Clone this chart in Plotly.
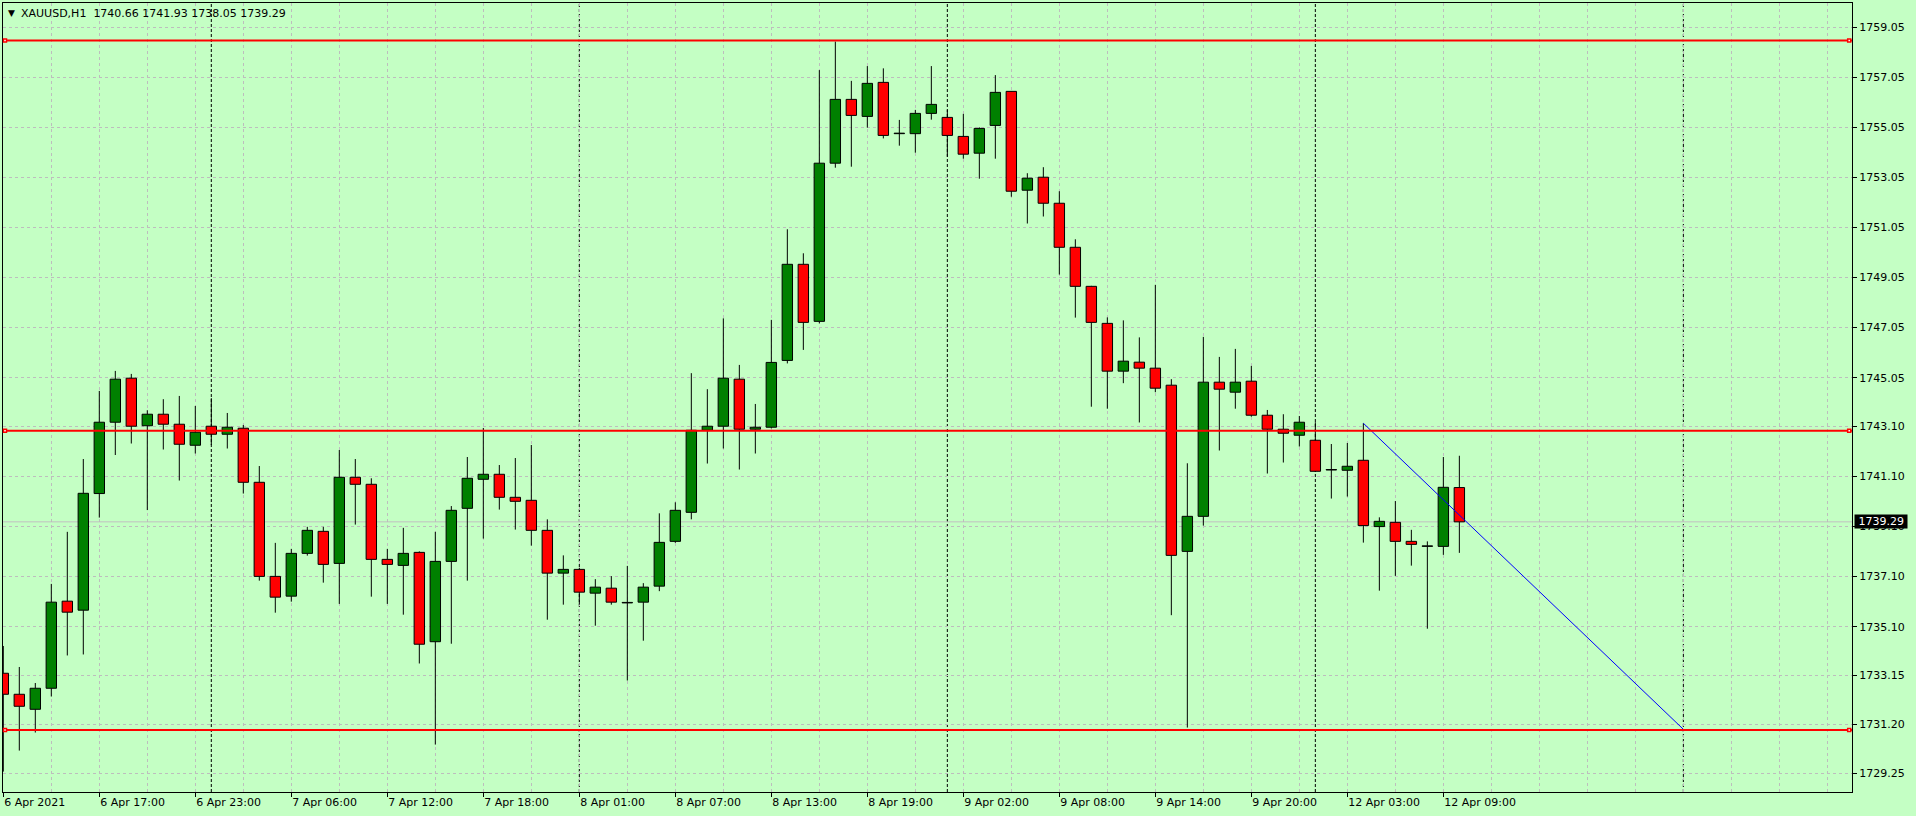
import plotly.graph_objects as go

# ---------------- data ----------------
opens = [1733.24, 1732.40, 1731.80, 1732.64, 1736.12, 1735.76, 1740.42, 1743.27, 1745.03, 1743.13,
         1743.59, 1743.19, 1742.35, 1743.11, 1742.79, 1743.03, 1740.87, 1737.11, 1736.32, 1738.03,
         1738.91, 1737.63, 1741.07, 1740.79, 1737.79, 1737.55, 1738.07, 1734.50, 1737.71, 1739.83,
         1740.99, 1741.19, 1740.27, 1740.15, 1738.95, 1737.24, 1737.39, 1736.44, 1736.64, 1736.05,
         1736.08, 1736.72, 1738.51, 1739.67, 1742.95, 1743.11, 1744.99, 1742.99, 1743.07, 1745.74,
         1749.58, 1747.30, 1753.62, 1756.17, 1755.49, 1756.85, 1754.80, 1754.80, 1755.61, 1755.45,
         1754.69, 1754.02, 1755.13, 1756.49, 1752.54, 1753.06, 1752.02, 1750.26, 1748.70, 1747.22,
         1745.31, 1745.67, 1745.43, 1744.75, 1738.11, 1739.51, 1744.87, 1744.47, 1744.91, 1743.55,
         1742.99, 1742.75, 1742.55, 1741.36, 1741.35, 1741.75, 1739.10, 1739.27, 1738.51, 1738.31,
         1738.31, 1740.66]
highs = [1734.33, 1733.49, 1732.85, 1736.81, 1738.89, 1741.80, 1744.52, 1745.32, 1745.20, 1743.75,
         1744.19, 1744.32, 1743.92, 1744.23, 1743.64, 1743.16, 1741.52, 1738.45, 1738.21, 1739.09,
         1739.09, 1742.16, 1741.80, 1741.03, 1738.21, 1739.05, 1738.11, 1738.89, 1739.92, 1741.88,
         1743.04, 1741.56, 1741.84, 1742.36, 1739.39, 1737.95, 1737.45, 1737.00, 1737.12, 1737.53,
         1736.84, 1739.63, 1740.07, 1745.23, 1744.59, 1747.42, 1745.56, 1744.00, 1747.36, 1750.98,
         1750.02, 1757.34, 1758.48, 1756.91, 1757.50, 1757.41, 1755.35, 1755.75, 1757.50, 1755.75,
         1755.59, 1755.05, 1757.14, 1756.50, 1753.22, 1753.46, 1752.50, 1750.58, 1748.72, 1747.46,
         1747.34, 1746.66, 1748.76, 1744.99, 1741.63, 1746.68, 1745.88, 1746.20, 1745.52, 1743.76,
         1743.59, 1743.52, 1743.27, 1742.40, 1742.44, 1743.23, 1739.47, 1740.12, 1738.97, 1738.51,
         1741.88, 1741.93]
lows = [1729.31, 1730.15, 1730.87, 1732.31, 1733.95, 1733.99, 1739.46, 1741.96, 1742.42, 1739.76,
        1742.18, 1740.94, 1742.02, 1742.36, 1742.22, 1740.42, 1736.94, 1735.66, 1736.10, 1737.94,
        1736.86, 1736.01, 1739.18, 1736.30, 1736.01, 1735.58, 1733.63, 1730.39, 1734.42, 1736.94,
        1738.62, 1739.78, 1738.98, 1738.34, 1735.38, 1735.98, 1735.98, 1735.14, 1735.98, 1732.95,
        1734.54, 1736.52, 1738.45, 1739.39, 1741.62, 1742.22, 1741.38, 1742.02, 1743.02, 1745.62,
        1746.16, 1747.22, 1753.44, 1753.48, 1755.04, 1754.61, 1754.32, 1754.04, 1755.36, 1753.88,
        1753.80, 1753.00, 1753.80, 1752.28, 1751.21, 1751.49, 1749.17, 1747.45, 1743.89, 1743.81,
        1744.83, 1743.26, 1744.47, 1735.56, 1731.07, 1739.14, 1742.14, 1743.81, 1743.49, 1741.22,
        1741.66, 1742.30, 1741.28, 1740.22, 1740.30, 1738.46, 1736.54, 1737.13, 1737.54, 1735.02,
        1737.97, 1738.05]
closes = [1732.40, 1731.92, 1732.64, 1736.08, 1735.68, 1740.43, 1743.27, 1744.99, 1743.11, 1743.59,
          1743.19, 1742.39, 1742.87, 1742.79, 1743.07, 1740.87, 1737.11, 1736.28, 1738.03, 1738.95,
          1737.59, 1741.07, 1740.79, 1737.79, 1737.59, 1738.03, 1734.40, 1737.71, 1739.75, 1741.03,
          1741.19, 1740.27, 1740.11, 1738.95, 1737.24, 1737.39, 1736.48, 1736.68, 1736.08, 1736.07,
          1736.68, 1738.47, 1739.75, 1742.95, 1743.11, 1745.03, 1742.99, 1743.07, 1745.66, 1749.58,
          1747.26, 1753.62, 1756.17, 1755.53, 1756.81, 1754.73, 1754.82, 1755.61, 1755.97, 1754.73,
          1753.98, 1755.01, 1756.45, 1752.50, 1753.02, 1752.02, 1750.26, 1748.70, 1747.26, 1745.31,
          1745.71, 1745.43, 1744.63, 1737.95, 1739.51, 1744.87, 1744.59, 1744.87, 1743.55, 1742.99,
          1742.83, 1743.27, 1741.31, 1741.38, 1741.51, 1739.14, 1739.31, 1738.51, 1738.39, 1738.33,
          1740.67, 1739.29]

x_tick_pos = [0, 6, 12, 18, 24, 30, 36, 42, 48, 54, 60, 66, 72, 78, 84, 90]
x_tick_labels = ["6 Apr 2021", "6 Apr 17:00", "6 Apr 23:00", "7 Apr 06:00", "7 Apr 12:00",
                 "7 Apr 18:00", "8 Apr 01:00", "8 Apr 07:00", "8 Apr 13:00", "8 Apr 19:00",
                 "9 Apr 02:00", "9 Apr 08:00", "9 Apr 14:00", "9 Apr 20:00", "12 Apr 03:00",
                 "12 Apr 09:00"]
x_grid_pos = list(range(3, 116, 3))
y_tick_vals = [1759.05, 1757.05, 1755.05, 1753.05, 1751.05, 1749.05, 1747.05, 1745.05,
               1743.10, 1741.10, 1739.10, 1737.10, 1735.10, 1733.15, 1731.20, 1729.25]
level_prices = [1758.52, 1742.93, 1730.97]
separator_idx = [13, 36, 59, 82, 105]
trend_x = [85, 105]
trend_y = [1743.23, 1731.00]
symbol = "XAUUSD,H1"

# ---------------- styling ----------------
BG = "#C4FFC4"
GRID = "#BDBDBD"
UP = "#008000"
DOWN = "#FF0000"
FONT = "DejaVu Sans"

idx = list(range(len(opens)))
body_base = [min(o, c) for o, c in zip(opens, closes)]
body_h = [abs(c - o) for o, c in zip(opens, closes)]
body_col = [UP if c > o else DOWN for o, c in zip(opens, closes)]

wick_x, wick_y = [], []
for i, o, h, l, c in zip(idx, opens, highs, lows, closes):
    top, bot = max(o, c), min(o, c)
    if h > top:
        wick_x += [i, i, None]
        wick_y += [top, h, None]
    if l < bot:
        wick_x += [i, i, None]
        wick_y += [bot, l, None]

fig = go.Figure()
fig.add_trace(go.Bar(x=idx, y=body_h, base=body_base, width=0.65,
                     marker=dict(color=body_col, line=dict(color="black", width=1)),
                     hoverinfo="skip"))
fig.add_trace(go.Scatter(x=wick_x, y=wick_y, mode="lines",
                         line=dict(color="black", width=1), hoverinfo="skip"))
fig.add_trace(go.Scatter(x=trend_x, y=trend_y, mode="lines",
                         line=dict(color="#0000FF", width=1), hoverinfo="skip"))

shapes = []
for s in separator_idx:
    shapes.append(dict(type="line", xref="x", yref="paper", x0=s, x1=s, y0=0, y1=1,
                       line=dict(color="black", width=1, dash="3px,2px"), layer="between"))
# current price line
shapes.append(dict(type="line", xref="paper", yref="y", x0=0, x1=1,
                   y0=closes[-1], y1=closes[-1],
                   line=dict(color="#C0C0C0", width=1), layer="between"))
for lv in level_prices:
    shapes.append(dict(type="line", xref="paper", yref="y", x0=0, x1=1, y0=lv, y1=lv,
                       line=dict(color="#FF0000", width=2), layer="above"))
    for anc, a0, a1 in ((0, 0.5, 3.5), (1, -4.3, -1.3)):
        shapes.append(dict(type="rect", xref="paper", yref="y", xsizemode="pixel",
                           ysizemode="pixel", xanchor=anc, yanchor=lv,
                           x0=a0, x1=a1, y0=-1.5, y1=1.5,
                           line=dict(color="#FF0000", width=1.5), fillcolor="white",
                           layer="above"))

annotations = [
    dict(text="▼", xref="paper", yref="paper", x=0, y=1, xanchor="left", yanchor="middle",
         xshift=3, yshift=-10, showarrow=False, font=dict(family=FONT, size=9, color="black")),
    dict(text=f"{symbol}\u00a0\u00a0{opens[-1]:.2f} {highs[-1]:.2f} {lows[-1]:.2f} {closes[-1]:.2f}",
         xref="paper", yref="paper", x=0, y=1, xanchor="left", yanchor="middle",
         xshift=16, yshift=-10.3, showarrow=False,
         font=dict(family=FONT, size=11, color="black")),
    dict(text=f"\u00a0{closes[-1]:.2f}\u00a0", xref="paper", yref="y", x=1, y=closes[-1],
         xanchor="left", yanchor="middle", xshift=2, showarrow=False, bgcolor="black",
         borderpad=0, font=dict(family=FONT, size=11, color="white")),
]

fig.update_layout(
    width=1916, height=816,
    margin=dict(l=3, r=64, t=3, b=24, pad=0, autoexpand=False),
    paper_bgcolor=BG, plot_bgcolor=BG,
    font=dict(family=FONT, size=11, color="black"),
    showlegend=False, bargap=0,
    shapes=shapes, annotations=annotations,
)
fig.update_xaxes(
    automargin=False,
    range=[-0.019, 115.54], tickmode="array", tickvals=x_tick_pos, ticktext=x_tick_labels,
    ticks="outside", ticklen=4, tickcolor="black", ticklabelposition="outside right",
    showgrid=True, gridcolor=GRID, griddash="3px,3px", gridwidth=1,
    minor=dict(tickmode="array", tickvals=x_grid_pos, showgrid=True, gridcolor=GRID,
               griddash="3px,3px", gridwidth=1, ticks=""),
    showline=True, linecolor="black", linewidth=1, mirror=True, zeroline=False,
    fixedrange=True,
)
fig.update_yaxes(
    automargin=False,
    side="right", range=[1728.495, 1760.021], tickmode="array", tickvals=y_tick_vals,
    ticktext=[f"{v:.2f}" for v in y_tick_vals],
    ticks="outside", ticklen=4, tickcolor="black",
    showgrid=True, gridcolor=GRID, griddash="3px,3px", gridwidth=1,
    showline=True, linecolor="black", linewidth=1, mirror=True, zeroline=False,
    fixedrange=True,
)

fig.write_html("out.html",
               config={"displayModeBar": False, "staticPlot": True},
               post_script="document.body.style.margin='0';"
                           "document.body.style.background='" + BG + "';")
